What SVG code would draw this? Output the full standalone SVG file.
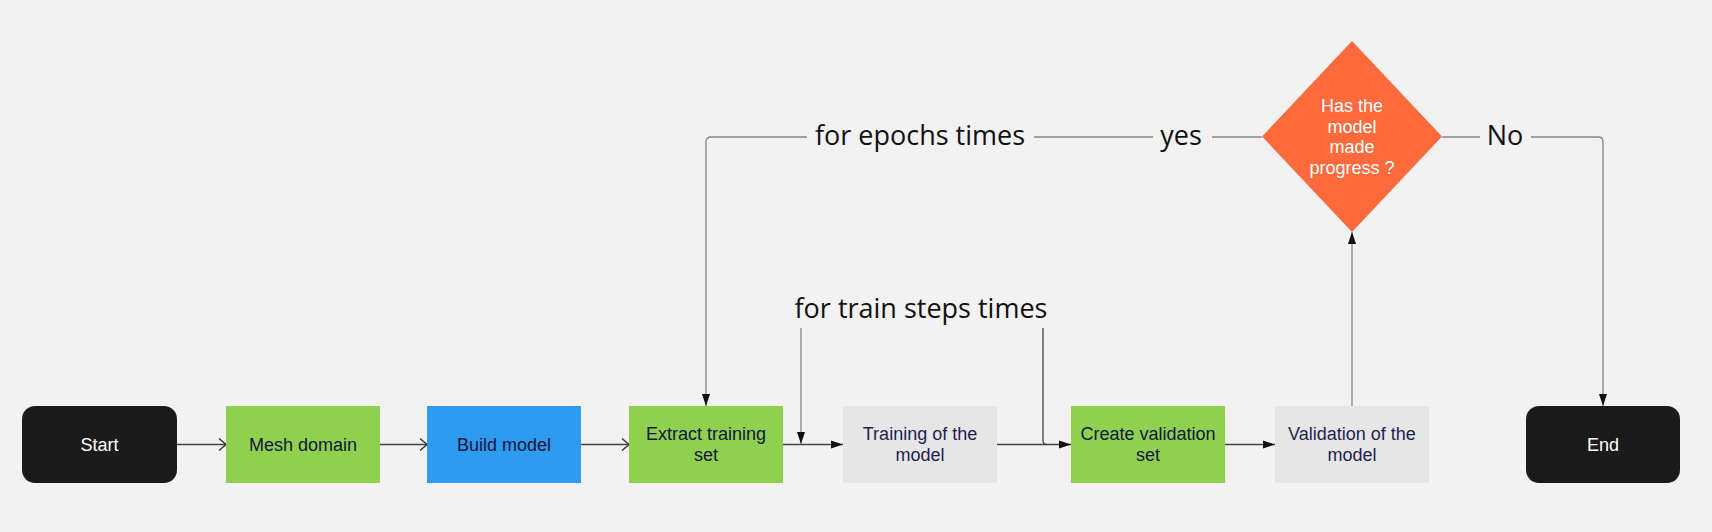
<svg xmlns="http://www.w3.org/2000/svg" width="1712" height="532" viewBox="0 0 1712 532">
  <defs>
    <style>
      .bg{fill:#f2f2f2}
      .term{fill:#1b1b1b}
      .green{fill:#8fd14f}
      .blue{fill:#2d9bf0}
      .grey{fill:#e6e6e6}
      .dia{fill:#ff6a3d}
      .t{font-family:"Liberation Sans",Arial,sans-serif;font-size:18px;text-anchor:middle}
      .tw{fill:#ffffff}
      .td{fill:#13163a}
      .tg{fill:#1f1f4f}
      .lbl{font-family:"Open Sans","Noto Sans",sans-serif;font-size:27px;fill:#111111;text-anchor:middle}
      .c{fill:none;stroke:#444444;stroke-width:1.3}
      .cl{fill:none;stroke:#858585;stroke-width:1.3}
    </style>
    <marker id="open" markerUnits="userSpaceOnUse" markerWidth="12" markerHeight="16" refX="8" refY="7" orient="auto">
      <path d="M1,1 L8,7 L1,13" fill="none" stroke="#333333" stroke-width="1.4"/>
    </marker>
    <marker id="fill" markerUnits="userSpaceOnUse" markerWidth="14" markerHeight="12" refX="12" refY="5" orient="auto">
      <path d="M0,1 L12,5 L0,9 Z" fill="#111111"/>
    </marker>
  </defs>
  <rect class="bg" x="0" y="0" width="1712" height="532"/>

  <g id="connectors">
    <path class="c" d="M177,444.5 H226" marker-end="url(#open)"/>
    <path class="c" d="M380,444.5 H427" marker-end="url(#open)"/>
    <path class="c" d="M581,444.5 H629" marker-end="url(#open)"/>
    <path class="c" d="M783,444.5 H843" marker-end="url(#fill)"/>
    <path class="c" d="M997,444.5 H1071" marker-end="url(#fill)"/>
    <path class="c" d="M1225,444.5 H1275" marker-end="url(#fill)"/>
    <path class="cl" d="M801,328 V444" marker-end="url(#fill)"/>
    <path class="c" d="M1043,328 V440.5 Q1043,444.5 1047,444.5"/>
    <path class="cl" d="M1352,406 V232" marker-end="url(#fill)"/>
    <path class="cl" d="M1262,137 H1212 M1153,137 H1034 M807,137 H711 Q706,137 706,142 V406" marker-end="url(#fill)"/>
    <path class="cl" d="M1442,137 H1480 M1531,137 H1598 Q1603,137 1603,142 V406" marker-end="url(#fill)"/>
    <text class="lbl" x="920" y="145">for epochs times</text>
    <text class="lbl" x="1181" y="145">yes</text>
    <text class="lbl" x="1505" y="145">No</text>
    <text class="lbl" x="921" y="318">for train steps times</text>
  </g>

  <g id="start">
    <rect class="term" x="22" y="406" width="155" height="77" rx="13"/>
    <text class="t tw" x="99.5" y="451">Start</text>
  </g>
  <g id="mesh">
    <rect class="green" x="226" y="406" width="154" height="77"/>
    <text class="t td" x="303" y="451">Mesh domain</text>
  </g>
  <g id="build">
    <rect class="blue" x="427" y="406" width="154" height="77"/>
    <text class="t td" x="504" y="451">Build model</text>
  </g>
  <g id="extract">
    <rect class="green" x="629" y="406" width="154" height="77"/>
    <text class="t td" x="706" y="440">Extract training</text>
    <text class="t td" x="706" y="461">set</text>
  </g>
  <g id="training">
    <rect class="grey" x="843" y="406" width="154" height="77"/>
    <text class="t tg" x="920" y="440">Training of the</text>
    <text class="t tg" x="920" y="461">model</text>
  </g>
  <g id="create">
    <rect class="green" x="1071" y="406" width="154" height="77"/>
    <text class="t td" x="1148" y="440">Create validation</text>
    <text class="t td" x="1148" y="461">set</text>
  </g>
  <g id="validation">
    <rect class="grey" x="1275" y="406" width="154" height="77"/>
    <text class="t tg" x="1352" y="440">Validation of the</text>
    <text class="t tg" x="1352" y="461">model</text>
  </g>
  <g id="decision">
    <polygon class="dia" points="1352,41 1442,136.5 1352,232 1262,136.5"/>
    <text class="t tw" x="1352" y="112">Has the</text>
    <text class="t tw" x="1352" y="132.5">model</text>
    <text class="t tw" x="1352" y="153">made</text>
    <text class="t tw" x="1352" y="173.5">progress ?</text>
  </g>
  <g id="end">
    <rect class="term" x="1526" y="406" width="154" height="77" rx="13"/>
    <text class="t tw" x="1603" y="451">End</text>
  </g>
</svg>
